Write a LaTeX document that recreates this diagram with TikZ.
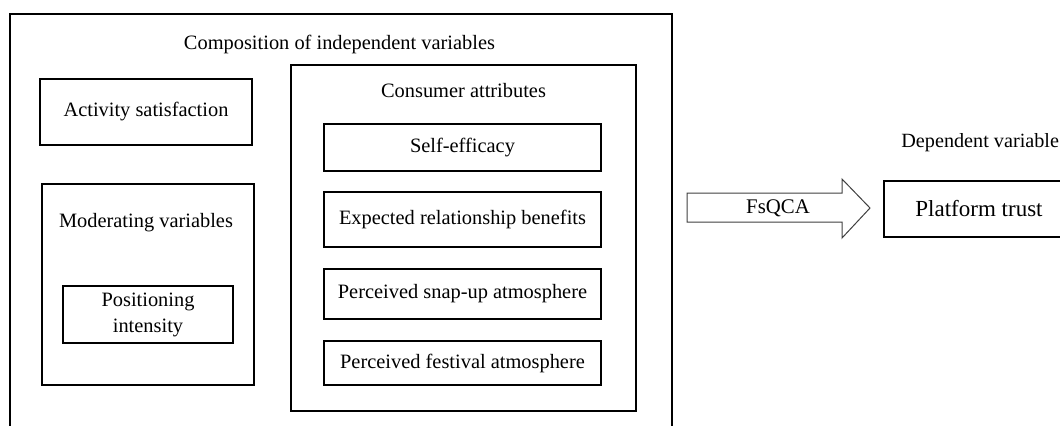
\documentclass[tikz,border=0pt]{standalone}
\usepackage{fontspec}
\setmainfont{Liberation Serif}
\begin{document}
\begin{tikzpicture}[x=0.5pt,y=-0.5pt,
  box/.style={draw=black,line width=0.6pt,rectangle,inner sep=0pt,align=center,font=\fontsize{10.2}{12.5}\selectfont},
  lbl/.style={inner sep=0pt,font=\fontsize{10.2}{12.5}\selectfont}]
\useasboundingbox (0,0) rectangle (1060,425);
\clip (0,0) rectangle (1060,425);
% outer container
\node[box,line width=0.65pt,minimum width=331pt,minimum height=223pt] (outer) at (341,237) {};
\node[lbl] (title) at (339.5,44) {Composition of independent variables};
% left column
\node[box,minimum width=106pt,minimum height=33pt] (act) at (146,112) {Activity satisfaction};
\node[box,minimum width=106pt,minimum height=100.5pt] (mod) at (148,284.5) {};
\node[lbl] (modt) at (146,223) {Moderating variables};
\node[box,font=\fontsize{10.2}{13}\selectfont,minimum width=85pt,minimum height=28.5pt] (pos) at (148,314.5) {Positioning\\intensity};
% consumer attributes
\node[box,minimum width=172.5pt,minimum height=173pt] (cons) at (463.5,238) {};
\node[lbl] (const) at (463.5,91) {Consumer attributes};
\node[box,minimum width=138.5pt,minimum height=23.5pt] (self) at (462.5,147.5) {Self-efficacy};
\node[box,minimum width=138.5pt,minimum height=27.5pt] (exp) at (462.5,219.5) {Expected relationship benefits};
\node[box,minimum width=138.5pt,minimum height=25pt] (snap) at (462.5,294) {Perceived snap-up atmosphere};
\node[box,minimum width=138.5pt,minimum height=22pt] (fest) at (462.5,363) {Perceived festival atmosphere};
% block arrow
\draw[line width=0.5pt,draw=black!75,fill=white]
  (687,193) -- (842,193) -- (842,179) -- (870,208) -- (842,238) -- (842,222) -- (687,222) -- cycle;
\node[lbl,font=\fontsize{10.4}{12.5}\selectfont] (fsqca) at (778,208) {FsQCA};
% dependent variable
\node[lbl,anchor=west,font=\fontsize{10.1}{12.5}\selectfont] (dept) at (901,143) {Dependent variable};
\node[box,font=\fontsize{11.5}{13.5}\selectfont,minimum width=95pt,minimum height=28pt] (trust) at (979,209) {Platform trust};
\end{tikzpicture}
\end{document}
